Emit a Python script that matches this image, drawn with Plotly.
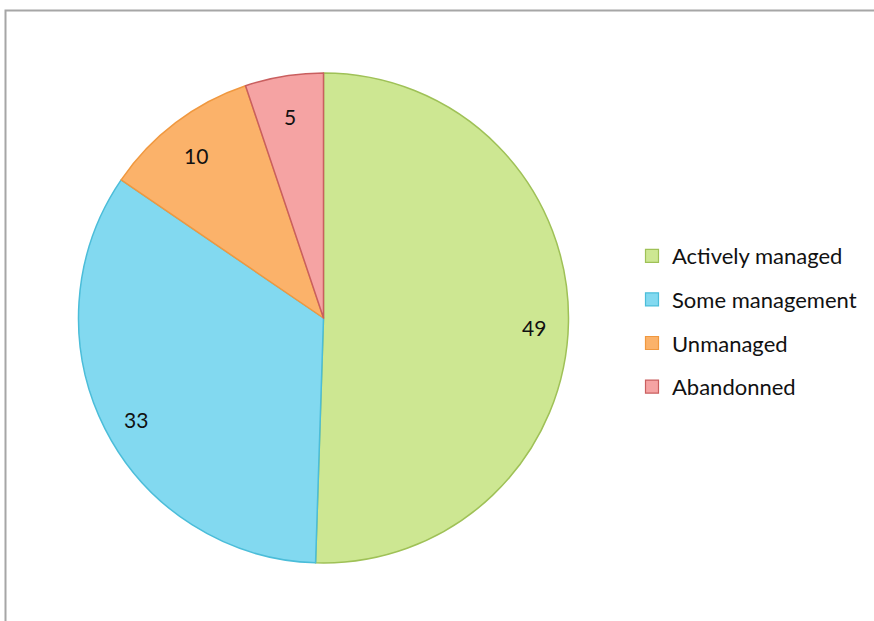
import math
import plotly.graph_objects as go

categories = ["Actively managed", "Some management", "Unmanaged", "Abandonned"]
values = [49, 33, 10, 5]
fill_colors = ["#cde792", "#82d9f0", "#fbb26a", "#f5a3a3"]
line_colors = ["#9fc157", "#4bbdd9", "#f0983f", "#c95f5f"]

W, H = 874, 621
cx, cy, r = 323.5, 318, 245
FONT = "Lato"

fig = go.Figure()
fig.add_trace(go.Pie(
    labels=categories, values=values, sort=False, direction="clockwise",
    rotation=0, textinfo="none",
    marker=dict(colors=fill_colors, line=dict(color=line_colors, width=1.5)),
    domain=dict(x=[(cx - r) / W, (cx + r) / W], y=[(H - cy - r) / H, (H - cy + r) / H]),
    showlegend=False, hoverinfo="label+value",
))

for c, fc, lc in zip(categories, fill_colors, line_colors):
    fig.add_trace(go.Scatter(
        x=[None], y=[None], mode="markers", name=c, legendgroup=c,
        marker=dict(symbol="square", size=13, color=fc, line=dict(color=lc, width=1.2)),
    ))

# value labels placed at 0.86 of the radius, at the middle angle of each slice
total = sum(values)
annotations = []
cum = 0
for v in values:
    mid = (cum + v / 2) / total * 2 * math.pi
    cum += v
    px = cx + 0.86 * r * math.sin(mid)
    py = cy - 0.86 * r * math.cos(mid) + 6
    annotations.append(dict(x=px / W, y=1 - py / H, xref="paper", yref="paper",
                            xanchor="center", yanchor="middle",
                            text=str(v), showarrow=False,
                            font=dict(size=21, color="#111111", family=FONT)))

fig.update_layout(
    width=W, height=H, margin=dict(l=0, r=0, t=0, b=0),
    paper_bgcolor="white", plot_bgcolor="white",
    xaxis=dict(visible=False), yaxis=dict(visible=False),
    legend=dict(x=632 / W, y=1 - 235 / H, xanchor="left", yanchor="top",
                font=dict(size=22, color="#111111", family=FONT),
                tracegroupgap=12, itemwidth=30, bgcolor="rgba(0,0,0,0)"),
    annotations=annotations,
    shapes=[dict(type="rect", xref="paper", yref="paper",
                 x0=5.5 / W, x1=1.02, y0=-0.02, y1=1 - 10.5 / H,
                 line=dict(color="#a6a6a6", width=2), layer="below")],
)

fig.write_html("out.html", post_script="document.body.style.margin='0px';",
               config={"displayModeBar": False})
